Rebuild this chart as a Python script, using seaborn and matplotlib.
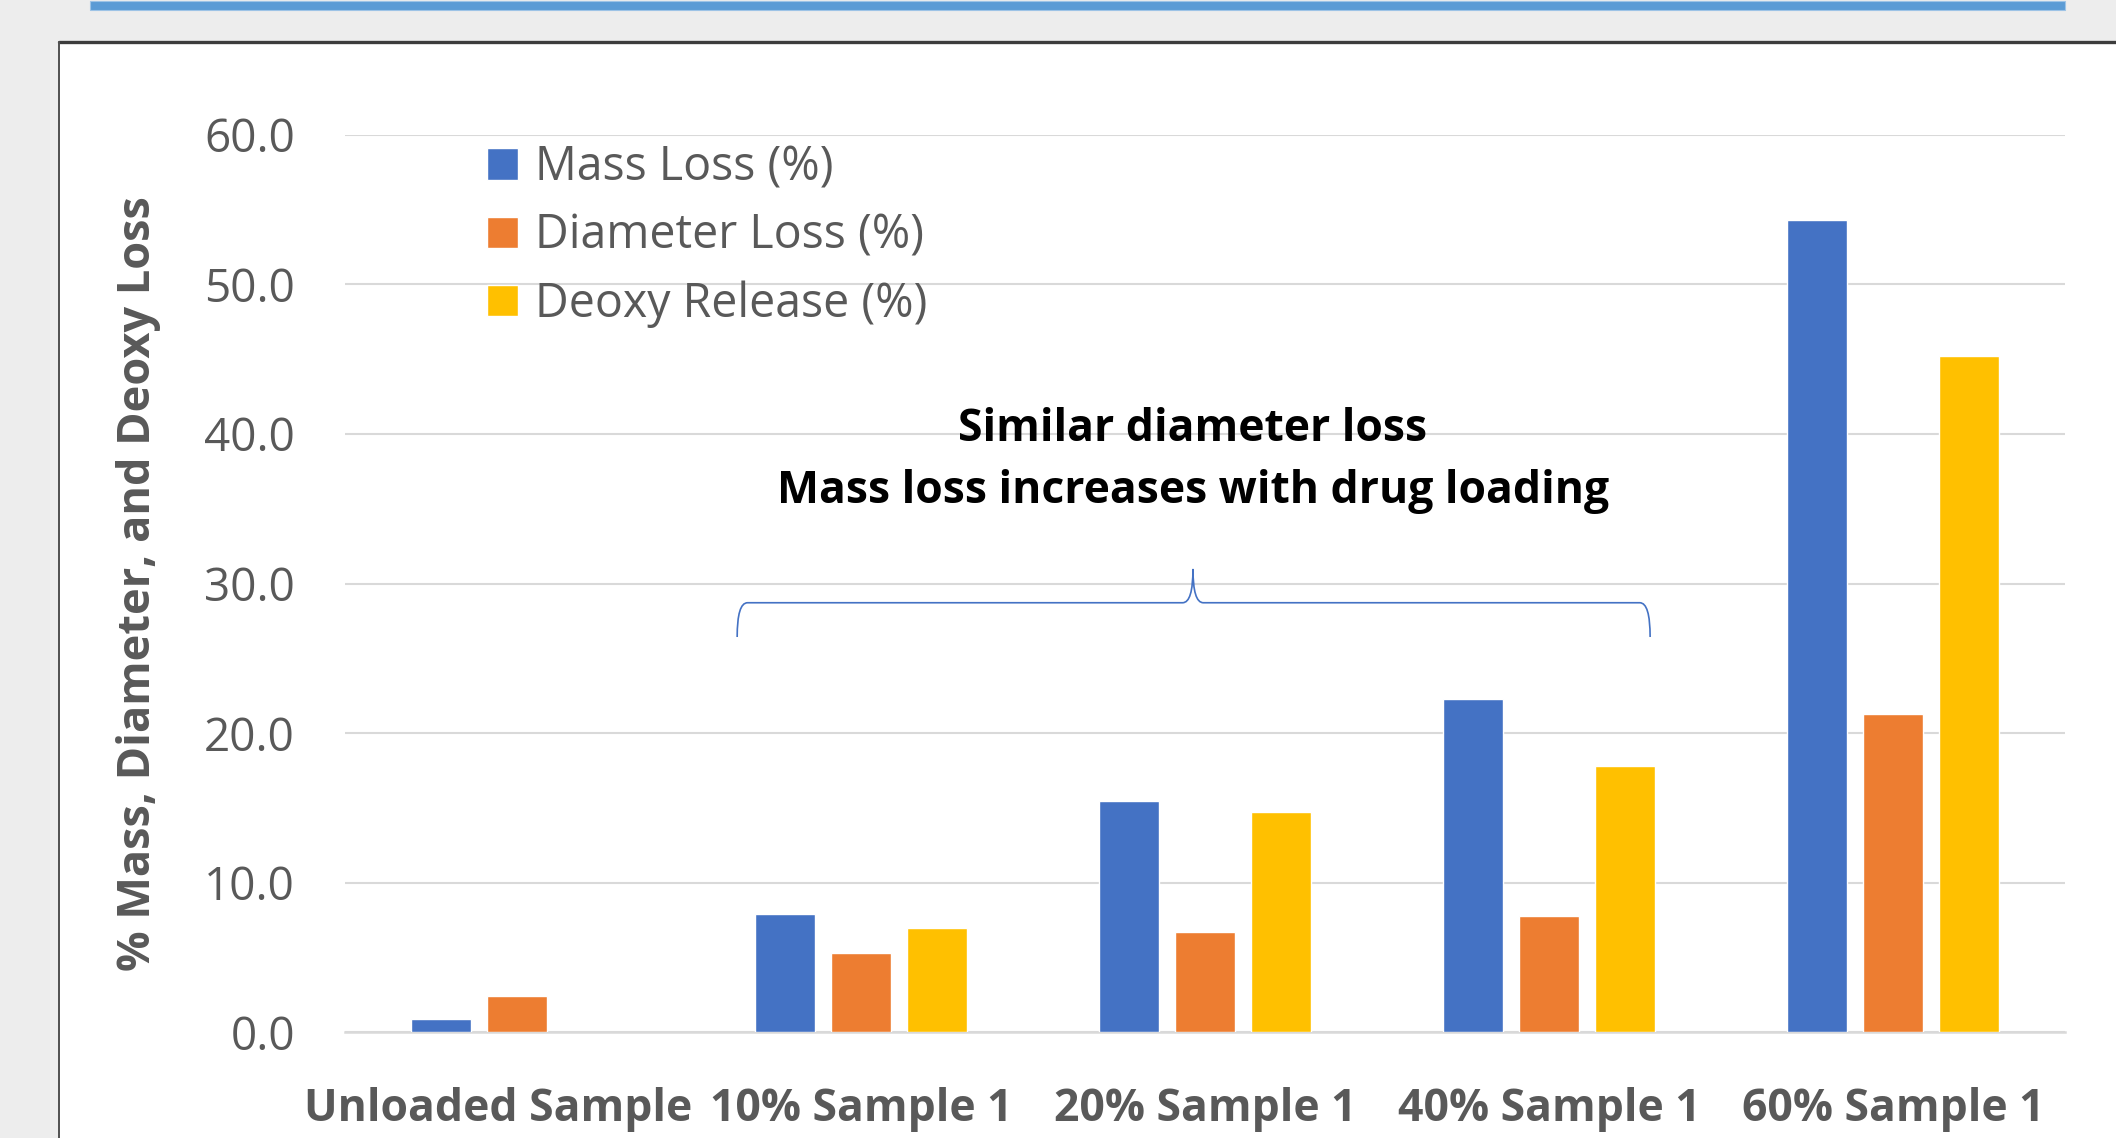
import numpy as np
import pandas as pd
import matplotlib
matplotlib.use("Agg")
import matplotlib.pyplot as plt
from matplotlib.patches import Rectangle, PathPatch
from matplotlib.path import Path
from matplotlib.lines import Line2D
import matplotlib.transforms as mtransforms
import seaborn as sns

# ---- data -------------------------------------------------------------
samples = ["Unloaded Sample", "10% Sample 1", "20% Sample 1", "40% Sample 1", "60% Sample 1"]
series = ["Mass Loss (%)", "Diameter Loss (%)", "Deoxy Release (%)"]
mass_loss = [0.9, 7.9, 15.5, 22.3, 54.3]
diameter_loss = [2.4, 5.3, 6.7, 7.8, 21.3]
deoxy_release = [np.nan, 7.0, 14.7, 17.8, 45.2]
y_ticks = [0, 10, 20, 30, 40, 50, 60]
colors = ["#4472C4", "#ED7D31", "#FFC000"]

df = pd.DataFrame({
    "sample": samples * 3,
    "metric": [series[0]] * 5 + [series[1]] * 5 + [series[2]] * 5,
    "value": mass_loss + diameter_loss + deoxy_release,
})

# ---- style ------------------------------------------------------------
sns.set_theme(style="white")
plt.rcParams["font.family"] = ["Open Sans", "DejaVu Sans"]
TXT = "#595959"
GRID = "#D9D9D9"
FS = 32

W, H = 2116, 1138
fig = plt.figure(figsize=(W / 100, H / 100), dpi=100, facecolor="#EDEDED")

# slide-like panel behind the chart
fig.patches.append(Rectangle((59 / W, -0.05), 1.2, 1 - 41 / H + 0.05,
                             transform=fig.transFigure, facecolor="white",
                             edgecolor="none", zorder=-10))
fig.lines.append(Line2D([59 / W, 1.0], [1 - 42 / H, 1 - 42 / H], transform=fig.transFigure,
                        color="#3C3C3C", lw=2.4, zorder=-9))
fig.lines.append(Line2D([59 / W, 59 / W], [0, 1 - 42 / H], transform=fig.transFigure,
                        color="#505050", lw=1.4, zorder=-9))
# blue title rule at the top
fig.patches.append(Rectangle((90 / W, 1 - 10 / H), 1975 / W, 9 / H,
                             transform=fig.transFigure, facecolor="#5B9BD5",
                             edgecolor="#9DC3E6", lw=0.8, zorder=-9))

ax = fig.add_axes([345 / W, 1 - 1032.4 / H, 1720 / W, (1032.4 - 134.8) / H])
ax.set_facecolor("none")

sns.barplot(data=df, x="sample", y="value", hue="metric", hue_order=series,
            order=samples, palette=colors, saturation=1, width=0.663, gap=0.207,
            errorbar=None, ax=ax, zorder=3)

ax.set_ylim(0, 60)
ax.set_xlim(-0.5, 4.5)
ax.set_yticks(y_ticks)
ax.set_yticklabels([f"{v:.1f}" for v in y_ticks])
ax.grid(axis="y", color=GRID, lw=1.5, zorder=0)
ax.set_axisbelow(True)
for s in ["left", "right", "top"]:
    ax.spines[s].set_visible(False)
ax.spines["bottom"].set_color(GRID)
ax.spines["bottom"].set_linewidth(1.8)
ax.tick_params(axis="y", length=0, pad=36, labelsize=33, labelcolor=TXT)
ax.tick_params(axis="x", length=0, pad=39, labelsize=FS, labelcolor=TXT)
for lab in ax.get_xticklabels():
    lab.set_fontweight("bold")
first = ax.get_xticklabels()[0]
first.set_transform(first.get_transform() + mtransforms.ScaledTranslation(-0.19, 0, fig.dpi_scale_trans))

ax.set_xlabel("")
ax.set_ylabel("% Mass, Diameter, and Deoxy Loss", fontsize=32.5, fontweight="bold", color=TXT)
ax.yaxis.label.set_va("center")
ax.yaxis.set_label_coords((139 - 345) / 1720, 0.5)

handles, labels = ax.get_legend_handles_labels()
ax.legend(handles, labels, loc="upper left", bbox_to_anchor=(0.0826, 0.99),
          frameon=False, fontsize=33.5, labelcolor=TXT, borderpad=0,
          handlelength=0.66, handleheight=0.66, handletextpad=0.36,
          labelspacing=0.45, borderaxespad=0)

# bracket over the 10%-40% groups
x0, x1, xm = 0.64, 3.294, 1.965
yb, ym, ye = 28.72, 30.98, 26.43
verts = [(x0, ye), (x0, yb), (x0 + 0.03, yb),
         (xm - 0.03, yb), (xm, yb), (xm, ym),
         (xm, yb), (xm + 0.03, yb),
         (x1 - 0.03, yb), (x1, yb), (x1, ye)]
codes = [Path.MOVETO, Path.CURVE3, Path.CURVE3,
         Path.LINETO, Path.CURVE3, Path.CURVE3,
         Path.CURVE3, Path.CURVE3,
         Path.LINETO, Path.CURVE3, Path.CURVE3]
ax.add_patch(PathPatch(Path(verts, codes), facecolor="none", edgecolor="#4472C4", lw=1.2, zorder=4))

ax.text(xm, 40.3, "Similar diameter loss", ha="center", va="center",
        fontsize=FS, fontweight="bold", color="black")
ax.text(xm, 36.15, "Mass loss increases with drug loading", ha="center", va="center",
        fontsize=FS, fontweight="bold", color="black")

fig.savefig("out.png", dpi=100, facecolor=fig.get_facecolor())
